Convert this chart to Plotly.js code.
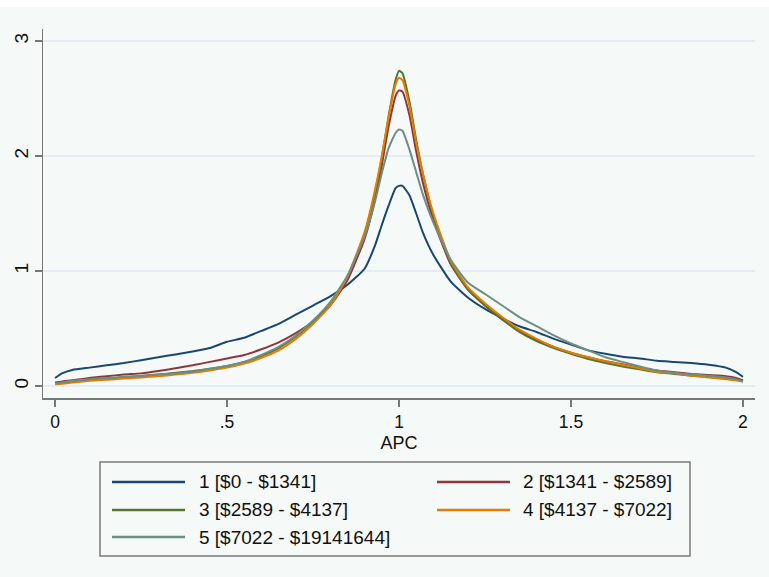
<!DOCTYPE html>
<html>
<head>
<meta charset="utf-8">
<script src="https://cdn.plot.ly/plotly-3.0.1.min.js"></script>
<style>
  html, body { margin: 0; padding: 0; background: #ffffff; width: 769px; height: 577px; overflow: hidden; }
  #chart { position: absolute; left: 0; top: 7px; width: 769px; height: 570px; }
</style>
</head>
<body>
<div id="chart"></div>
<script>
// APC grid (x values)
const apc = [0, 0.02, 0.05, 0.1, 0.15, 0.2, 0.25, 0.3, 0.35, 0.4, 0.45, 0.5, 0.55, 0.6, 0.65, 0.7, 0.75, 0.8, 0.85, 0.9, 0.93, 0.95, 0.97, 0.99, 1.0, 1.01, 1.03, 1.05, 1.07, 1.1, 1.15, 1.2, 1.25, 1.3, 1.35, 1.4, 1.45, 1.5, 1.55, 1.6, 1.65, 1.7, 1.75, 1.8, 1.85, 1.9, 1.95, 1.98, 2.0];

// Density values per income group
const group1 = [0.07, 0.11, 0.14, 0.16, 0.18, 0.20, 0.225, 0.25, 0.275, 0.30, 0.33, 0.385, 0.42, 0.48, 0.54, 0.62, 0.70, 0.78, 0.88, 1.02, 1.22, 1.40, 1.57, 1.72, 1.74, 1.74, 1.66, 1.50, 1.33, 1.14, 0.91, 0.77, 0.67, 0.59, 0.52, 0.47, 0.41, 0.36, 0.31, 0.28, 0.255, 0.24, 0.22, 0.21, 0.20, 0.185, 0.16, 0.12, 0.08];
const group2 = [0.03, 0.04, 0.05, 0.07, 0.085, 0.10, 0.11, 0.13, 0.155, 0.18, 0.21, 0.24, 0.27, 0.32, 0.38, 0.46, 0.56, 0.70, 0.92, 1.28, 1.62, 1.92, 2.26, 2.52, 2.57, 2.56, 2.36, 2.04, 1.76, 1.44, 1.06, 0.84, 0.70, 0.58, 0.48, 0.40, 0.34, 0.29, 0.25, 0.215, 0.19, 0.16, 0.135, 0.12, 0.105, 0.095, 0.085, 0.07, 0.05];
const group3 = [0.02, 0.03, 0.04, 0.055, 0.065, 0.075, 0.085, 0.10, 0.115, 0.13, 0.15, 0.175, 0.21, 0.26, 0.33, 0.43, 0.56, 0.72, 0.95, 1.32, 1.68, 1.98, 2.35, 2.66, 2.74, 2.72, 2.48, 2.14, 1.84, 1.48, 1.07, 0.84, 0.70, 0.58, 0.47, 0.39, 0.33, 0.28, 0.235, 0.20, 0.17, 0.145, 0.12, 0.105, 0.09, 0.08, 0.065, 0.055, 0.04];
const group4 = [0.015, 0.02, 0.03, 0.045, 0.055, 0.065, 0.075, 0.085, 0.10, 0.115, 0.135, 0.16, 0.195, 0.245, 0.31, 0.41, 0.54, 0.70, 0.95, 1.34, 1.70, 2.0, 2.34, 2.62, 2.68, 2.66, 2.44, 2.12, 1.84, 1.50, 1.09, 0.86, 0.72, 0.60, 0.49, 0.41, 0.34, 0.29, 0.25, 0.215, 0.185, 0.155, 0.125, 0.11, 0.09, 0.075, 0.06, 0.05, 0.04];
const group5 = [0.02, 0.03, 0.045, 0.06, 0.07, 0.08, 0.09, 0.10, 0.11, 0.125, 0.15, 0.175, 0.21, 0.27, 0.34, 0.44, 0.57, 0.73, 0.96, 1.30, 1.60, 1.85, 2.07, 2.20, 2.23, 2.22, 2.06, 1.86, 1.66, 1.42, 1.10, 0.90, 0.80, 0.70, 0.60, 0.52, 0.44, 0.37, 0.31, 0.25, 0.21, 0.17, 0.135, 0.115, 0.10, 0.09, 0.075, 0.06, 0.04];

const groupNames = ['1 [$0 - $1341]', '2 [$1341 - $2589]', '3 [$2589 - $4137]', '4 [$4137 - $7022]', '5 [$7022 - $19141644]'];
const groupColors = ['#1a476f', '#90353b', '#55752f', '#e37e00', '#6e8e84'];

const xTickVals = [0, 0.5, 1, 1.5, 2];
const xTickText = ['0', '.5', '1', '1.5', '2'];
const yTickVals = [0, 1, 2, 3];
const yTickText = ['0', '1', '2', '3'];

const allGroups = [group1, group2, group3, group4, group5];

const traces = allGroups.map((ys, i) => ({
  type: 'scatter', mode: 'lines', x: apc, y: ys, name: groupNames[i],
  line: { color: groupColors[i], width: 2, shape: 'spline', smoothing: 0.5 }, showlegend: false, hoverinfo: 'skip'
}));

// page-pixel -> paper helpers (plot area: x 43..755, y 29..398 in page pixels)
const PL = 43, PR = 755, PT = 29, PB = 398;
const X = p => (p - PL) / (PR - PL);
const Y = p => (PB - p) / (PB - PT);

const bg = '#f5f9f7';
const shapes = [{
  type: 'rect', xref: 'paper', yref: 'paper',
  x0: X(100), x1: X(690), y0: Y(556), y1: Y(462),
  line: { color: '#7a7a7a', width: 1.5 }, fillcolor: bg, layer: 'below'
}];
const annotations = [];
const rowY = [482, 510, 537];
const lineX = [[112, 185], [437, 510]];
const textX = [197, 521];
groupNames.forEach((nm, i) => {
  const col = i % 2, row = Math.floor(i / 2);
  shapes.push({
    type: 'line', xref: 'paper', yref: 'paper',
    x0: X(lineX[col][0]), x1: X(lineX[col][1]), y0: Y(rowY[row]), y1: Y(rowY[row]),
    line: { color: groupColors[i], width: 2.5 }
  });
  annotations.push({
    xref: 'paper', yref: 'paper', x: X(textX[col]), y: Y(rowY[row]),
    xanchor: 'left', yanchor: 'middle', showarrow: false, text: nm,
    font: { family: 'Liberation Sans, Arial, sans-serif', size: 19, color: '#111111' }
  });
});

const layout = {
  width: 769, height: 570,
  margin: { l: PL, r: 769 - PR, t: PT - 7, b: 570 - (PB - 7), pad: 0 },
  paper_bgcolor: bg, plot_bgcolor: bg,
  font: { family: 'Liberation Sans, Arial, sans-serif', color: '#111111' },
  showlegend: false,
  xaxis: {
    range: [-0.035, 2.035], tickmode: 'array', tickvals: xTickVals, ticktext: xTickText,
    ticks: 'outside', ticklen: 7, tickwidth: 1.5, tickcolor: '#777777',
    showline: true, linecolor: '#777777', linewidth: 1.5,
    showgrid: false, zeroline: false, automargin: false,
    tickfont: { size: 17.5 },
    title: { text: 'APC', font: { size: 18 }, standoff: 6 }
  },
  yaxis: {
    range: [-0.104, 3.104], tickmode: 'array', tickvals: yTickVals, ticktext: yTickText,
    tickangle: -90, ticks: 'outside', ticklen: 7, tickwidth: 1.5, tickcolor: '#777777',
    showline: true, linecolor: '#777777', linewidth: 1.5,
    showgrid: true, gridcolor: '#e6ecf5', gridwidth: 1.2, zeroline: false, automargin: false,
    tickfont: { size: 19 }, ticklabelstandoff: -1
  },
  shapes: shapes,
  annotations: annotations
};

Plotly.newPlot('chart', traces, layout, { displayModeBar: false, staticPlot: true });
</script>
</body>
</html>
